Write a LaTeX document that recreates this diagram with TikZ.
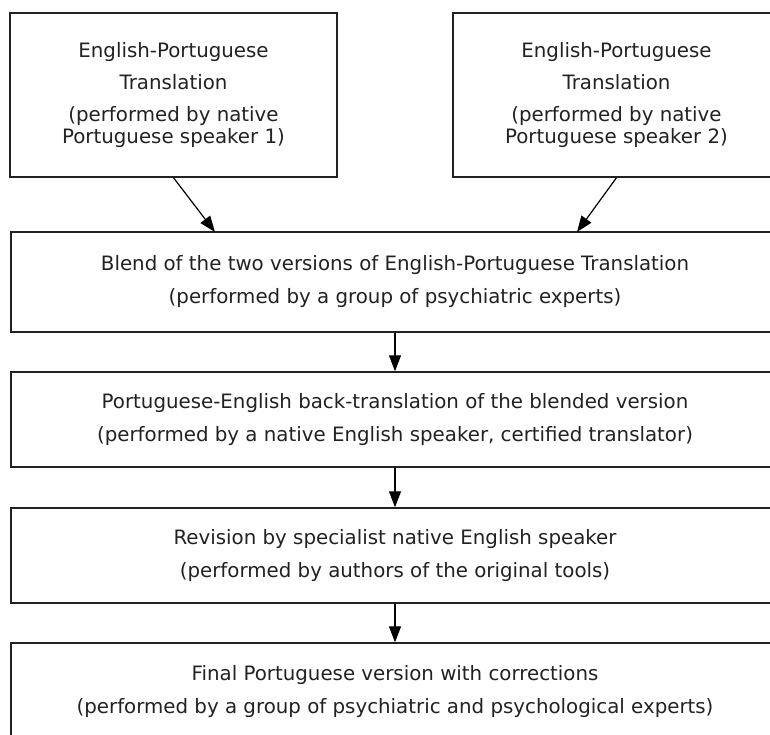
\documentclass[tikz,border=0pt]{standalone}
\usepackage{fontspec}
\setmainfont{DejaVu Sans}
\usetikzlibrary{arrows.meta}
\definecolor{ink}{HTML}{222222}
\begin{document}
\begin{tikzpicture}[x=1pt,y=-1pt,
  box/.style={draw=ink,line width=1.4pt,text=ink,align=center,inner sep=0pt,
    font=\fontsize{19.8}{22.5}\selectfont},
  arr/.style={draw=black,line width=1.2pt,-{Triangle[length=16pt,width=12pt]}}]
\useasboundingbox (0,0) rectangle (770,734);
\clip (0,0) rectangle (770,734);
\fill[white] (0,0) rectangle (770,734);
\node[box,minimum width=327pt,minimum height=164pt] (tl) at (173.5,95)
  {English-Portuguese\\[9.5pt]Translation\\[9.5pt](performed by native\\Portuguese speaker 1)};
\node[box,minimum width=327pt,minimum height=164pt] (tr) at (616.5,95)
  {English-Portuguese\\[9.5pt]Translation\\[9.5pt](performed by native\\Portuguese speaker 2)};
\node[box,minimum width=768pt,minimum height=100pt] (blend) at (395,282)
  {Blend of the two versions of English-Portuguese Translation\\[10.5pt](performed by a group of psychiatric experts)};
\node[box,minimum width=768pt,minimum height=95pt] (back) at (395,419.5)
  {Portuguese-English back-translation of the blended version\\[10.5pt](performed by a native English speaker, certified translator)};
\node[box,minimum width=768pt,minimum height=95pt] (rev) at (395,555.5)
  {Revision by specialist native English speaker\\[10.5pt](performed by authors of the original tools)};
\node[box,minimum width=768pt,minimum height=98pt] (final) at (395,692)
  {Final Portuguese version with corrections\\[10.5pt](performed by a group of psychiatric and psychological experts)};
\coordinate (e1) at (215,232);
\coordinate (e2) at (577,232);
\draw[arr] (tl.south) -- (e1);
\draw[arr] (tr.south) -- (e2);
\draw[arr] (blend.south) -- (back.north);
\draw[arr] (back.south) -- (rev.north);
\draw[arr] (rev.south) -- (final.north);
\end{tikzpicture}
\end{document}
